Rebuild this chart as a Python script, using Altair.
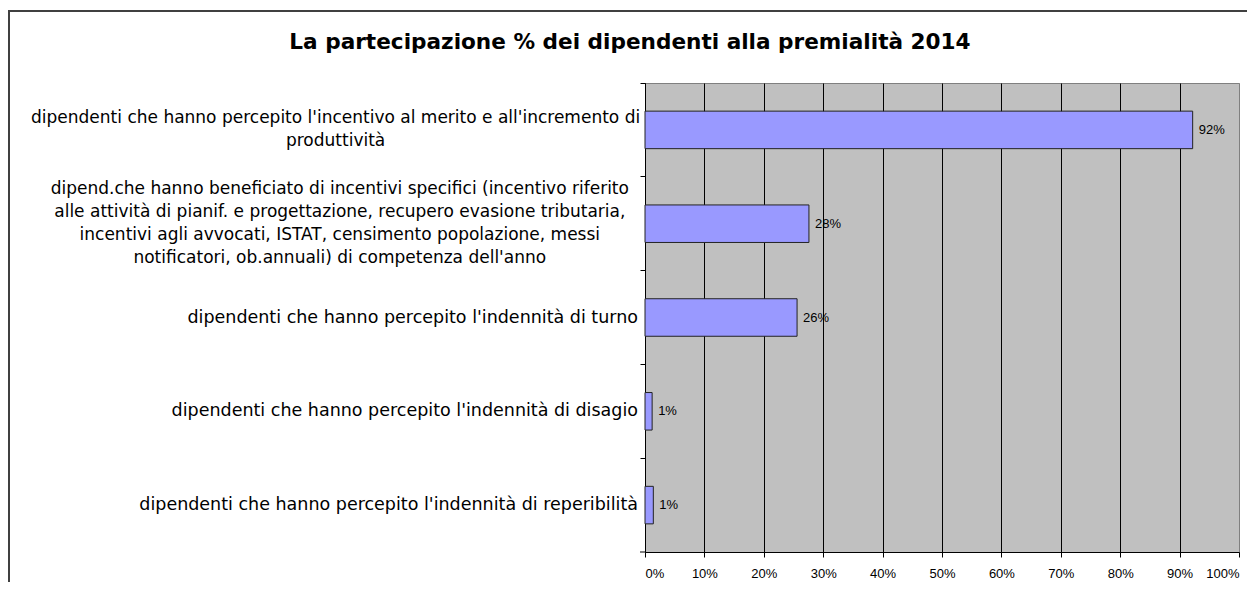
import altair as alt
import pandas as pd

title_text = "La partecipazione % dei dipendenti alla premialità 2014"

categories = [
    "dipendenti che hanno percepito l'incentivo al merito e all'incremento di\nproduttività",
    "dipend.che hanno beneficiato di incentivi specifici (incentivo riferito\nalle attività di pianif. e progettazione, recupero evasione tributaria,\nincentivi agli avvocati, ISTAT, censimento popolazione, messi\nnotificatori, ob.annuali) di competenza dell'anno",
    "dipendenti che hanno percepito l'indennità di turno",
    "dipendenti che hanno percepito l'indennità di disagio",
    "dipendenti che hanno percepito l'indennità di reperibilità",
]
shares = [0.922, 0.276, 0.256, 0.012, 0.014]
x_ticks = [0, 0.1, 0.2, 0.3, 0.4, 0.5, 0.6, 0.7, 0.8, 0.9, 1.0]

df = pd.DataFrame({"cat": categories, "share": shares})

W, H = 594, 469
CHAR_W = 8.4
MULTI_FONT = 17
SINGLE_FONT = 17.5
LINE_H = 23
HALF_STEP = H / len(categories) / 2

yscale = alt.Scale(domain=categories, paddingInner=0, paddingOuter=0)

base = alt.Chart(df)

bars = base.mark_bar(
    height=alt.RelativeBandSize(0.4), fill="#9999FF", stroke="#222222", strokeWidth=1
).encode(
    x=alt.X(
        "share:Q",
        scale=alt.Scale(domain=[0, 1], nice=False, zero=True),
        axis=alt.Axis(
            values=x_ticks,
            format=".0%",
            title=None,
            labelFont="Liberation Sans",
            labelFontSize=13,
            labelColor="black",
            labelPadding=10,
            tickColor="black",
            tickSize=5,
            domainColor="black",
            grid=True,
            gridColor={"condition": {"test": "datum.value >= 1", "value": "#808080"}, "value": "black"},
            gridWidth=1,
            gridOpacity=1,
        ),
    ),
    y=alt.Y(
        "cat:N",
        sort=categories,
        scale=yscale,
        axis=alt.Axis(
            labels=False,
            title=None,
            bandPosition=0,
            tickColor="black",
            tickSize=5,
            domainColor="black",
            grid=False,
        ),
    ),
)

value_labels = base.mark_text(
    align="left", baseline="middle", dx=6, font="Liberation Sans", fontSize=13, color="black"
).encode(
    x=alt.X("share:Q"),
    y=alt.Y("cat:N", sort=categories, scale=yscale),
    text=alt.Text("share:Q", format=".0%"),
)

cat_single = base.transform_filter(
    "indexof(datum.cat, '\\n') < 0"
).mark_text(
    align="right", baseline="middle", font="DejaVu Sans", fontSize=SINGLE_FONT, color="black"
).encode(
    x=alt.value(-7),
    y=alt.Y("cat:N", sort=categories, scale=yscale),
    text="cat:N",
)

cat_multi = base.transform_filter(
    "indexof(datum.cat, '\\n') >= 0"
).transform_calculate(
    lines="split(datum.cat, '\\n')",
).transform_calculate(
    maxlen="max(length(datum.lines[0]), length(datum.lines[1]), length(datum.lines[2] || ''), length(datum.lines[3] || ''))",
    off=f"{HALF_STEP} - (length(datum.lines) - 1) * {LINE_H} / 2",
).transform_calculate(
    lx=f"-7 - datum.maxlen * {CHAR_W} / 2",
).mark_text(
    align="center", baseline="middle", font="DejaVu Sans", fontSize=MULTI_FONT, color="black", lineHeight=LINE_H
).encode(
    x=alt.X("lx:Q", scale=None),
    y=alt.Y("cat:N", sort=categories, scale=yscale),
    yOffset=alt.YOffset("off:Q", scale=None),
    text="lines:N",
)

one = alt.Data(values=[{"t": title_text}])
title = alt.Chart(one).mark_text(
    align="center", baseline="middle", font="DejaVu Sans", fontSize=21.6, fontWeight="bold", color="black"
).encode(x=alt.value(-15), y=alt.value(-40), text="t:N")

border_top = alt.Chart(one).mark_rule(color="#404040", strokeWidth=2).encode(
    x=alt.value(-637), x2=alt.value(610), y=alt.value(-72)
)
border_left = alt.Chart(one).mark_rule(color="#404040", strokeWidth=2).encode(
    x=alt.value(-636), y=alt.value(-73), y2=alt.value(520)
)
corner_tick = alt.Chart(one).mark_rule(color="black", strokeWidth=1).encode(
    x=alt.value(-5), x2=alt.value(0), y=alt.value(H)
)

chart = alt.layer(
    bars, value_labels, cat_single, cat_multi, title, border_top, border_left, corner_tick
).properties(
    width=W,
    height=H,
    autosize=alt.AutoSizeParams(type="none"),
    padding={"left": 637, "top": 75, "right": 8, "bottom": 30},
    background="white",
).configure_view(
    fill="#C0C0C0", stroke="#808080", strokeWidth=1
)

chart.save("out.html", embed_options={"renderer": "svg", "actions": False})
